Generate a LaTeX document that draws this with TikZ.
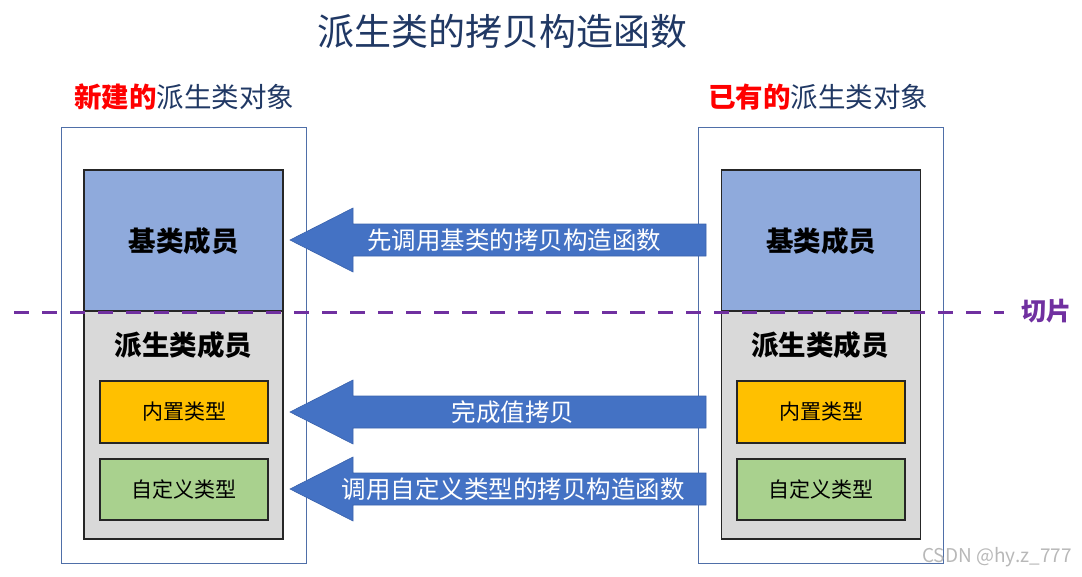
\documentclass[tikz,border=0pt]{standalone}
\usepackage{fontspec}
\setmainfont{Noto Sans CJK SC}
\definecolor{navy}{HTML}{203864}
\definecolor{outerc}{HTML}{4F6FA8}
\definecolor{basec}{HTML}{8FAADC}
\definecolor{grayc}{HTML}{D9D9D9}
\definecolor{orangec}{HTML}{FFC000}
\definecolor{greenc}{HTML}{A9D18E}
\definecolor{arrowc}{HTML}{4472C4}
\definecolor{arrowd}{HTML}{3A62AC}
\definecolor{purplec}{HTML}{7030A0}
\definecolor{redc}{HTML}{FF0000}
\tikzset{
  outerbox/.style={draw=outerc, line width=0.9pt, minimum width=245pt, minimum height=436pt, inner sep=0pt},
  basebox/.style={draw=black!85, fill=basec, line width=1.2pt, minimum width=199pt, minimum height=141pt, inner sep=0pt},
  derivbox/.style={draw=black!85, fill=grayc, line width=1.2pt, minimum width=199pt, minimum height=228pt, inner sep=0pt},
  builtinbox/.style={draw=black!85, fill=orangec, line width=1.2pt, minimum width=168pt, minimum height=62pt, inner sep=0pt, font=\fontsize{21}{24}\selectfont},
  custombox/.style={draw=black!85, fill=greenc, line width=1.2pt, minimum width=168pt, minimum height=61pt, inner sep=0pt, font=\fontsize{21}{24}\selectfont},
  bigtext/.style={font=\fontsize{27.5}{30}\selectfont\bfseries, inner sep=0pt},
  arrowtext/.style={text=white, font=\fontsize{24.5}{28}\selectfont, inner sep=0pt},
  arrowshape/.style={fill=arrowc, draw=arrowd, line width=0.6pt},
  objlabel/.style={text=navy, font=\fontsize{27.5}{30}\selectfont, inner sep=0pt},
}
\newcommand\leftbigarrow[1]{%
  \path[arrowshape] (290,#1) -- (353,#1-32) -- (353,#1-16) -- (706,#1-16) -- (706,#1+16) -- (353,#1+16) -- (353,#1+32) -- cycle;}
\begin{document}
\begin{tikzpicture}[x=1pt,y=-1pt]
\useasboundingbox (0,0) rectangle (1082,576);
% title
\node[text=navy, font=\fontsize{37}{40}\selectfont, inner sep=0pt] (title) at (502,31) {派生类的拷贝构造函数};
% object labels
\node[objlabel] (newlabel) at (184,97) {\textcolor{redc}{\bfseries 新建的}派生类对象};
\node[objlabel] (oldlabel) at (818,97) {\textcolor{redc}{\bfseries 已有的}派生类对象};
% outer boxes
\node[outerbox] (newobj) at (183.5,345) {};
\node[outerbox] (oldobj) at (820.5,345) {};
% left object
\node[derivbox] (newderiv) at (183.5,425) {};
\node[basebox] (newbase) at (183.5,240.5) {};
\node[bigtext] (newbasetext) at (183.5,241) {基类成员};
\node[bigtext] (newderivtext) at (183.5,345) {派生类成员};
\node[builtinbox] (newbuiltin) at (184,412) {内置类型};
\node[custombox] (newcustom) at (184,489.5) {自定义类型};
% right object
\node[derivbox] (oldderiv) at (821,425) {};
\node[basebox] (oldbase) at (821,240.5) {};
\node[bigtext] (oldbasetext) at (821,241) {基类成员};
\node[bigtext] (oldderivtext) at (820,345) {派生类成员};
\node[builtinbox] (oldbuiltin) at (821,412) {内置类型};
\node[custombox] (oldcustom) at (821,489.5) {自定义类型};
% slice line
\coordinate (slicestart) at (14,312);
\coordinate (sliceend) at (1004,312);
\node[text=purplec, font=\fontsize{25}{28}\selectfont\bfseries, inner sep=0pt] (slice) at (1046,311) {切片};
\draw[purplec, line width=3pt, dash pattern=on 15pt off 13pt] (slicestart) -- (sliceend);
% arrows
\leftbigarrow{240}
\leftbigarrow{412}
\leftbigarrow{489}
\node[arrowtext] (a1) at (514,240) {先调用基类的拷贝构造函数};
\node[arrowtext] (a2) at (513,412) {完成值拷贝};
\node[arrowtext] (a3) at (513,489) {调用自定义类型的拷贝构造函数};
% watermark
\node[text=black!28, font=\fontsize{19}{21}\selectfont, inner sep=0pt] (wm) at (997,557) {CSDN @hy.z\_777};
\end{tikzpicture}
\end{document}
